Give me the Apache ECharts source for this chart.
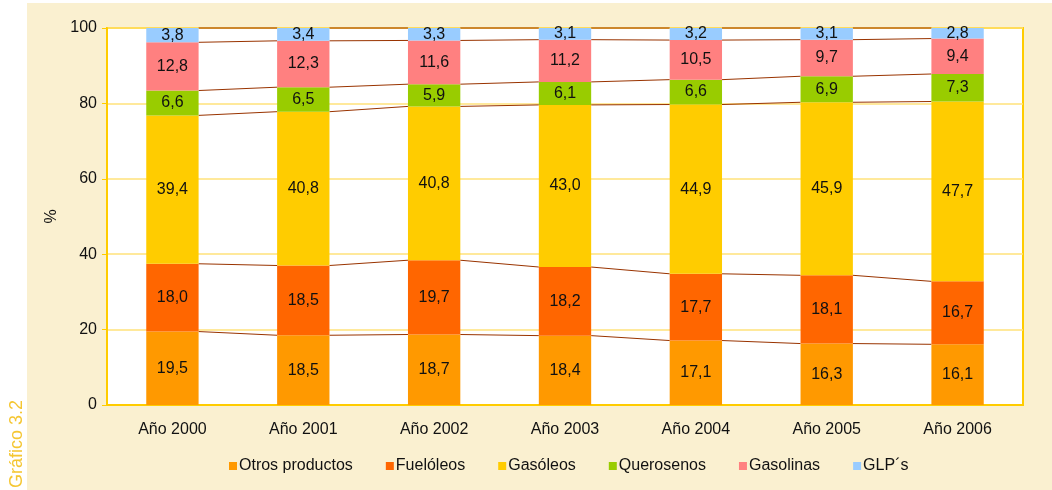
<!DOCTYPE html>
<html>
<head>
<meta charset="utf-8">
<script src="https://cdn.jsdelivr.net/npm/echarts@6/dist/echarts.min.js"></script>
<style>
  html, body { margin: 0; padding: 0; background: #fff; }
  #chart { width: 1052px; height: 490px; }
</style>
</head>
<body>
<div id="chart"></div>
<script>
const years = ['Año 2000', 'Año 2001', 'Año 2002', 'Año 2003', 'Año 2004', 'Año 2005', 'Año 2006'];
const otros = [19.5, 18.5, 18.7, 18.4, 17.1, 16.3, 16.1];
const fueloleos = [18.0, 18.5, 19.7, 18.2, 17.7, 18.1, 16.7];
const gasoleos = [39.4, 40.8, 40.8, 43.0, 44.9, 45.9, 47.7];
const querosenos = [6.6, 6.5, 5.9, 6.1, 6.6, 6.9, 7.3];
const gasolinas = [12.8, 12.3, 11.6, 11.2, 10.5, 9.7, 9.4];
const glp = [3.8, 3.4, 3.3, 3.1, 3.2, 3.1, 2.8];
const yTicks = [0, 20, 40, 60, 80, 100];

const names = ['Otros productos', 'Fuelóleos', 'Gasóleos', 'Querosenos', 'Gasolinas', 'GLP´s'];
const colors = ['#ff9900', '#ff6600', '#ffcc00', '#99cc00', '#ff8080', '#99ccff'];
const raw = [otros, fueloleos, gasoleos, querosenos, gasolinas, glp];

// 100% apilado: normalizar cada año
const totals = years.map((_, i) => raw.reduce((a, s) => a + s[i], 0));
const norm = raw.map(s => s.map((v, i) => v / totals[i] * 100));
// acumulados para las líneas de serie
const cum = [];
norm.forEach((s, k) => {
  cum.push(s.map((v, i) => v + (k > 0 ? cum[k - 1][i] : 0)));
});

const myChart = echarts.init(document.getElementById('chart'));

const barSeries = names.map((n, k) => ({
  name: n,
  type: 'bar',
  stack: 'total',
  barWidth: '40%',
  data: norm[k],
  itemStyle: { color: colors[k] },
  label: {
    show: true,
    position: 'inside',
    color: '#111',
    fontSize: 16,
    fontFamily: 'Liberation Sans, Arial, sans-serif',
    formatter: p => raw[k][p.dataIndex].toFixed(1).replace('.', ',')
  },
  z: 3
}));

const seriesLines = {
  type: 'custom',
  silent: true,
  z: 2,
  data: years.slice(0, -1).map((_, i) => [i]),
  renderItem: (params, api) => {
    const i = api.value(0);
    const half = api.size([1, 0])[0] * 0.2;
    const children = cum.map(c => {
      const p1 = api.coord([i, c[i]]);
      const p2 = api.coord([i + 1, c[i + 1]]);
      return {
        type: 'line',
        shape: { x1: p1[0] + half, y1: p1[1], x2: p2[0] - half, y2: p2[1] },
        style: { stroke: '#993300', lineWidth: 1 }
      };
    });
    return { type: 'group', children };
  }
};

const option = {
  backgroundColor: '#fff',
  animation: false,
  textStyle: { fontFamily: 'Liberation Sans, Arial, sans-serif' },
  graphic: [
    {
      type: 'rect',
      left: 27, top: 3, z: -10,
      shape: { width: 1025, height: 487 },
      style: { fill: '#faf0d0' }
    },
    {
      type: 'text',
      x: 26, y: 488, rotation: Math.PI / 2,
      style: {
        text: 'Gráfico 3.2',
        fill: '#f5c631',
        fontSize: 18,
        fontFamily: 'Liberation Sans, Arial, sans-serif',
        textAlign: 'left',
        textVerticalAlign: 'bottom'
      }
    }
  ],
  grid: {
    left: 107, right: 29, top: 28, bottom: 85,
    show: true,
    backgroundColor: '#fff',
    borderColor: '#ffcc00',
    borderWidth: 2
  },
  legend: {
    bottom: 11,
    left: 224,
    icon: 'rect',
    itemWidth: 8,
    itemHeight: 8,
    itemGap: 33,
    textStyle: { fontSize: 16, color: '#111', padding: [0, 0, 0, -3] },
    data: names
  },
  xAxis: {
    type: 'category',
    data: years,
    axisLine: { lineStyle: { color: '#ffcc00', width: 2 } },
    axisTick: { length: 4, lineStyle: { color: '#ffcc00' } },
    axisLabel: { color: '#111', fontSize: 16, margin: 17 }
  },
  yAxis: {
    type: 'value',
    min: 0,
    max: 100,
    interval: 20,
    name: '%',
    nameLocation: 'middle',
    nameRotate: 90,
    nameGap: 46,
    nameTextStyle: { color: '#111', fontSize: 16 },
    axisLine: { show: true, lineStyle: { color: '#ffcc00', width: 2 } },
    axisTick: { show: true, length: 5, lineStyle: { color: '#ffcc00' } },
    axisLabel: { color: '#111', fontSize: 16, margin: 10, formatter: v => yTicks.includes(v) ? String(v) : '' },
    splitLine: { lineStyle: { color: '#ffe27a', width: 1.5 } }
  },
  series: [...barSeries, seriesLines]
};

myChart.setOption(option);
</script>
</body>
</html>
